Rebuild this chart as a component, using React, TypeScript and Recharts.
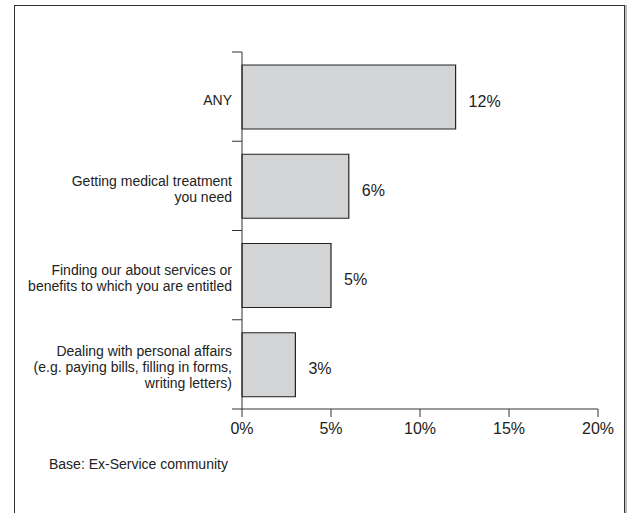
import React from "react";
import {
  BarChart,
  Bar,
  XAxis,
  YAxis,
  LabelList,
} from "recharts";

const categories = [
  "ANY",
  "Getting medical treatment\nyou need",
  "Finding our about services or\nbenefits to which you are entitled",
  "Dealing with personal affairs\n(e.g. paying bills, filling in forms,\nwriting letters)",
];
const values = [12, 6, 5, 3];
const xTicks = [0, 5, 10, 15, 20];
const baseNote = "Base: Ex-Service community";

const W = 627;
const H = 513;
const X_HEIGHT = 30;
const MARGIN = { top: 52, right: 29, bottom: 74, left: 10 };
const Y_WIDTH = 232;
const FONT = "'Liberation Sans', Arial, Helvetica, sans-serif";
const INK = "#222";

const data = categories.map((name, i) => ({ name, value: values[i] }));
const BAND = (H - MARGIN.top - MARGIN.bottom - X_HEIGHT) / categories.length;

function CategoryTick(props: any) {
  const { x, y, payload, index } = props;
  const lines = String(payload.value).split("\n");
  const lh = 16;
  const startY = y + 3 - ((lines.length - 1) * lh) / 2;
  const axisX = x + 10;
  const isLast = index === categories.length - 1;
  return (
    <g>
      <line x1={x} x2={axisX} y1={y - BAND / 2} y2={y - BAND / 2} stroke="#333" />
      {isLast && (
        <line x1={x} x2={axisX} y1={y + BAND / 2} y2={y + BAND / 2} stroke="#333" />
      )}
      <text
        x={x}
        y={startY}
        textAnchor="end"
        dominantBaseline="central"
        fontSize={14}
        fill={INK}
        fontFamily={FONT}
      >
        {lines.map((l, i) => (
          <tspan key={i} x={x} y={startY + i * lh}>
            {l}
          </tspan>
        ))}
      </text>
    </g>
  );
}

function ValueLabel(props: any) {
  const { x, y, width, height, value } = props;
  return (
    <text
      x={x + width + 13}
      y={y + height / 2 + 4}
      dominantBaseline="central"
      fontSize={16}
      fill={INK}
      fontFamily={FONT}
    >
      {value}%
    </text>
  );
}

export default function App() {
  return (
    <div
      style={{
        position: "absolute",
        left: 0,
        top: 0,
        width: W,
        height: H,
        overflow: "hidden",
        background: "#fff",
        fontFamily: FONT,
      }}
    >
      <div
        style={{
          position: "absolute",
          left: 14,
          top: 5,
          width: 609,
          height: 540,
          border: "1.5px solid #333",
          boxShadow: "2px 0 0 #bbb",
        }}
      />
      <div style={{ position: "absolute", left: 0, top: 0 }}>
        <BarChart
          width={W}
          height={H}
          data={data}
          layout="vertical"
          margin={MARGIN}
          barCategoryGap={0}
        >
          <XAxis
            type="number"
            domain={[0, 20]}
            ticks={xTicks}
            tickFormatter={(v) => `${v}%`}
            axisLine={{ stroke: "#333" }}
            tickLine={{ stroke: "#333" }}
            tickSize={8}
            tickMargin={6}
            height={X_HEIGHT}
            tick={{ fontSize: 16, fill: INK, fontFamily: FONT }}
            interval={0}
          />
          <YAxis
            type="category"
            dataKey="name"
            width={Y_WIDTH}
            axisLine={{ stroke: "#333" }}
            tickLine={false}
            tickSize={10}
            tickMargin={0}
            tick={<CategoryTick />}
            interval={0}
          />
          <Bar
            dataKey="value"
            barSize={64}
            fill="#d3d4d6"
            stroke="#222"
            strokeWidth={1.2}
            isAnimationActive={false}
          >
            <LabelList dataKey="value" content={<ValueLabel />} />
          </Bar>
        </BarChart>
      </div>
      <div
        style={{
          position: "absolute",
          left: 49,
          top: 456,
          fontSize: 14,
          color: INK,
          whiteSpace: "nowrap",
        }}
      >
        {baseNote}
      </div>
    </div>
  );
}
